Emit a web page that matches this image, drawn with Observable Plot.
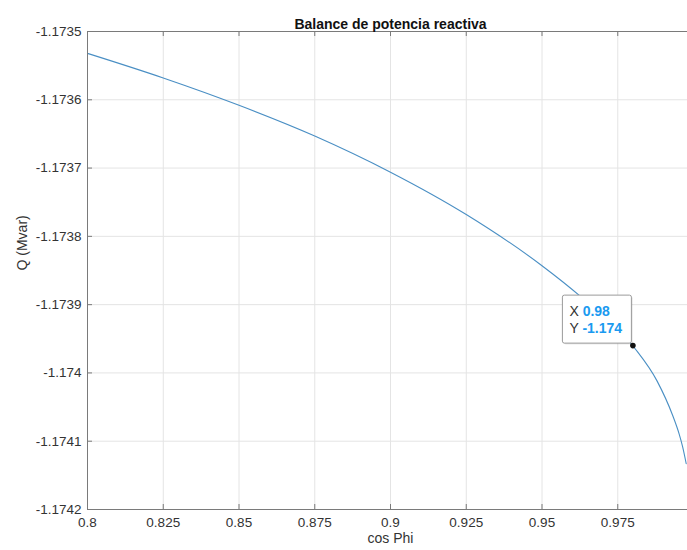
<!DOCTYPE html>
<html>
<head>
<meta charset="utf-8">
<script src="https://cdn.jsdelivr.net/npm/d3@7"></script>
<script src="https://cdn.jsdelivr.net/npm/@observablehq/plot@0.6"></script>
<style>
  html, body { margin: 0; padding: 0; background: #fff; }
  svg { display: block; }
</style>
</head>
<body>
<div id="chart"></div>
<script>
// Data
const cosPhi = [0.8, 0.825, 0.85, 0.875, 0.9, 0.925, 0.95, 0.9627, 0.9803, 0.988, 0.9931, 0.9953, 0.9964, 0.9976];
const qMvar  = [-1.173532, -1.173568, -1.173608, -1.173653, -1.173706, -1.173768, -1.173843, -1.173888, -1.173962, -1.174012, -1.174062, -1.174090, -1.174108, -1.174133];

const xTicks = [0.8, 0.825, 0.85, 0.875, 0.9, 0.925, 0.95, 0.975];
const xTickLabels = ["0.8", "0.825", "0.85", "0.875", "0.9", "0.925", "0.95", "0.975"];
const yTicks = [-1.1742, -1.1741, -1.174, -1.1739, -1.1738, -1.1737, -1.1736, -1.1735];
const yTickLabels = ["-1.1742", "-1.1741", "-1.174", "-1.1739", "-1.1738", "-1.1737", "-1.1736", "-1.1735"];

const tipPoint = {x: 0.98, y: -1.17396};
const tipLabels = {x: "0.98", y: "-1.174"};

const title = "Balance de potencia reactiva";
const xLabel = "cos Phi";
const yLabel = "Q (Mvar)";

const data = cosPhi.map((x, i) => ({x, y: qMvar[i]}));

const W = 687, H = 550;
const mL = 87, mT = 31, mB = 41, mR = 0;
const plotH = H - mT - mB;
const axisColor = "#7a7a7a";
const font = "'Liberation Sans', Arial, Helvetica, sans-serif";

const plot = Plot.plot({
  width: W,
  height: H,
  marginLeft: mL,
  marginRight: mR,
  marginTop: mT,
  marginBottom: mB,
  style: {fontFamily: font, fontSize: "13.5px", color: "#333", background: "#fff"},
  x: {domain: [0.8, 1.0], range: [mL, 693]},
  y: {domain: [-1.1742, -1.1735]},
  marks: [
    Plot.gridX(xTicks, {stroke: "#e4e4e4", strokeOpacity: 1}),
    Plot.gridY(yTicks, {stroke: "#e4e4e4", strokeOpacity: 1}),
    Plot.line(data, {x: "x", y: "y", stroke: "#4a8fc4", strokeWidth: 1.1, curve: "monotone-x", clip: true}),
    // axis lines
    Plot.ruleX([0.8], {stroke: axisColor}),
    Plot.ruleY([-1.1742, -1.1735], {stroke: axisColor}),
    // inward ticks
    Plot.tickX(xTicks, {x: d => d, insetTop: plotH - 5, stroke: axisColor}),
    Plot.tickX(xTicks, {x: d => d, insetBottom: plotH - 5, stroke: axisColor}),
    Plot.tickY(yTicks, {y: d => d, insetRight: (W - mL - mR) - 5, stroke: axisColor}),
    // tick labels
    Plot.axisX({ticks: xTicks, tickSize: 0, tickPadding: 8, tickFormat: (d, i) => xTickLabels[i], label: null, fontSize: 13.5}),
    Plot.axisY({ticks: yTicks, tickSize: 0, tickPadding: 6, tickFormat: (d, i) => yTickLabels[i], label: null, fontSize: 13.5}),
    // titles
    Plot.text([title], {frameAnchor: "top", dx: 3, dy: -12, fontWeight: "bold", fontSize: 14, fill: "#111"}),
    Plot.text([xLabel], {frameAnchor: "bottom", dx: 3, dy: 33, fontSize: 14, fill: "#333"}),
    Plot.text([yLabel], {frameAnchor: "left", dx: -65, rotate: -90, fontSize: 14, fill: "#333"}),
    // data tip marker
    Plot.dot([tipPoint], {x: "x", y: "y", r: 2.8, fill: "#111", stroke: "none"})
  ]
});

// Data tip box, anchored on the data point through Plot's own scales
const sx = plot.scale("x"), sy = plot.scale("y");
const px = sx.apply(tipPoint.x), py = sy.apply(tipPoint.y);
const bw = 69, bh = 48;
const g = d3.select(plot).append("g")
  .attr("font-family", font).attr("font-size", 14).attr("text-anchor", "start");
g.append("rect")
  .attr("x", px - 1 - bw + 1.5).attr("y", py - 2 - bh + 1.5)
  .attr("width", bw).attr("height", bh).attr("rx", 2)
  .attr("fill", "#000").attr("fill-opacity", 0.08);
g.append("rect")
  .attr("x", px - 1 - bw).attr("y", py - 2 - bh)
  .attr("width", bw).attr("height", bh).attr("rx", 2)
  .attr("fill", "#fff").attr("stroke", "#9a9a9a").attr("stroke-width", 1);
const tx = px - 1 - bw + 7;
const t1 = g.append("text").attr("x", tx).attr("y", py - 2 - bh + 21);
t1.append("tspan").attr("fill", "#333").text("X ");
t1.append("tspan").attr("fill", "#1a9af0").attr("font-weight", "bold").text(tipLabels.x);
const t2 = g.append("text").attr("x", tx).attr("y", py - 2 - bh + 38);
t2.append("tspan").attr("fill", "#333").text("Y ");
t2.append("tspan").attr("fill", "#1a9af0").attr("font-weight", "bold").text(tipLabels.y);

document.getElementById("chart").appendChild(plot);
</script>
</body>
</html>
